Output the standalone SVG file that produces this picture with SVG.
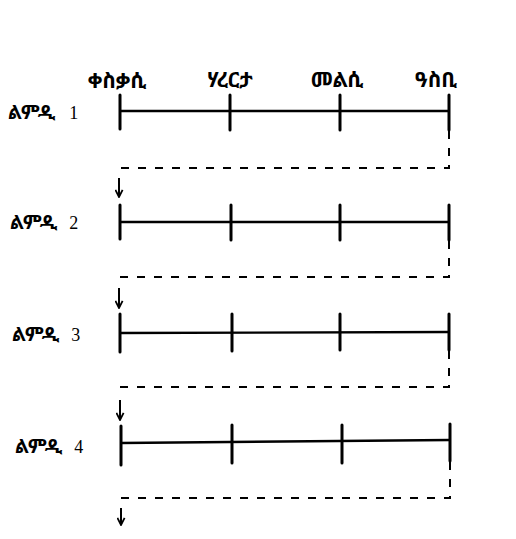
<svg xmlns="http://www.w3.org/2000/svg" width="516" height="539" viewBox="0 0 516 539">
<style>
  .bg { fill: #ffffff; }
  .eth { font-family: "Noto Sans Ethiopic", "Abyssinica SIL", "DejaVu Sans", "Noto Sans", sans-serif; font-weight: bold; font-size: 21px; fill: #000; }
  .lbl { font-size: 19px; }
  .num { font-family: "Liberation Serif", serif; font-weight: normal; font-size: 18px; }
  .axis { stroke: #000; stroke-width: 2.4; fill: none; }
  .tick { stroke: #000; stroke-width: 3; fill: none; stroke-linecap: round; }
  .dash { stroke: #000; stroke-width: 2; fill: none; stroke-dasharray: 8 9; }
  .arrow { stroke: #000; stroke-width: 2; fill: none; marker-end: url(#ah); }
</style>
<defs>
  <marker id="ah" viewBox="0 0 10 10" refX="9" refY="5" markerWidth="9" markerHeight="9" orient="auto" markerUnits="userSpaceOnUse">
    <path d="M1,1 L9,5 L1,9" fill="none" stroke="#000" stroke-width="2"/>
  </marker>
</defs>
<rect class="bg" x="0" y="0" width="516" height="539"/>

<g id="headers">
  <text class="eth" x="117" y="88" text-anchor="middle">ቀስቃሲ</text>
  <text class="eth" x="230" y="87" text-anchor="middle">ሃረርታ</text>
  <text class="eth" x="337" y="87" text-anchor="middle">መልሲ</text>
  <text class="eth" x="436" y="87" text-anchor="middle">ዓስቢ</text>
</g>

<g id="row1">
  <text class="eth lbl" x="8" y="119">ልምዲ <tspan class="num" dx="9">1</tspan></text>
  <line class="axis" x1="120" y1="111" x2="449" y2="111"/>
  <line class="tick" x1="120" y1="95" x2="120" y2="129"/>
  <line class="tick" x1="230" y1="95" x2="230" y2="130"/>
  <line class="tick" x1="340" y1="95" x2="340" y2="130"/>
  <line class="tick" x1="449" y1="95" x2="449" y2="130"/>
</g>

<g id="row2">
  <text class="eth lbl" x="10" y="229">ልምዲ <tspan class="num" dx="7">2</tspan></text>
  <line class="axis" x1="120" y1="222" x2="449" y2="222"/>
  <line class="tick" x1="120" y1="205" x2="120" y2="239"/>
  <line class="tick" x1="231" y1="205" x2="231" y2="240"/>
  <line class="tick" x1="340" y1="205" x2="340" y2="240"/>
  <line class="tick" x1="449" y1="205" x2="449" y2="240"/>
</g>

<g id="row3">
  <text class="eth lbl" x="12" y="341">ልምዲ <tspan class="num" dx="7">3</tspan></text>
  <line class="axis" x1="120" y1="333" x2="449" y2="332"/>
  <line class="tick" x1="120" y1="314" x2="120" y2="352"/>
  <line class="tick" x1="232" y1="314" x2="232" y2="351"/>
  <line class="tick" x1="340" y1="314" x2="340" y2="350"/>
  <line class="tick" x1="449" y1="314" x2="449" y2="350"/>
</g>

<g id="row4">
  <text class="eth lbl" x="15" y="453">ልምዲ <tspan class="num" dx="7">4</tspan></text>
  <line class="axis" x1="121" y1="443" x2="450" y2="440"/>
  <line class="tick" x1="121" y1="426" x2="121" y2="465"/>
  <line class="tick" x1="232" y1="425" x2="232" y2="463"/>
  <line class="tick" x1="342" y1="425" x2="342" y2="463"/>
  <line class="tick" x1="450" y1="424" x2="450" y2="461"/>
</g>

<g id="connectors">
  <path class="dash" d="M449,131 V168 H119 V174"/>
  <line class="arrow" x1="119" y1="178" x2="119" y2="197"/>
  <path class="dash" d="M449,241 V277 H119 V284"/>
  <line class="arrow" x1="119" y1="288" x2="119" y2="308"/>
  <path class="dash" d="M449,351 V387 H120 V394"/>
  <line class="arrow" x1="120" y1="400" x2="120" y2="420"/>
  <path class="dash" d="M450,462 V498 H121 V504"/>
  <line class="arrow" x1="121" y1="508" x2="121" y2="525"/>
</g>
</svg>
